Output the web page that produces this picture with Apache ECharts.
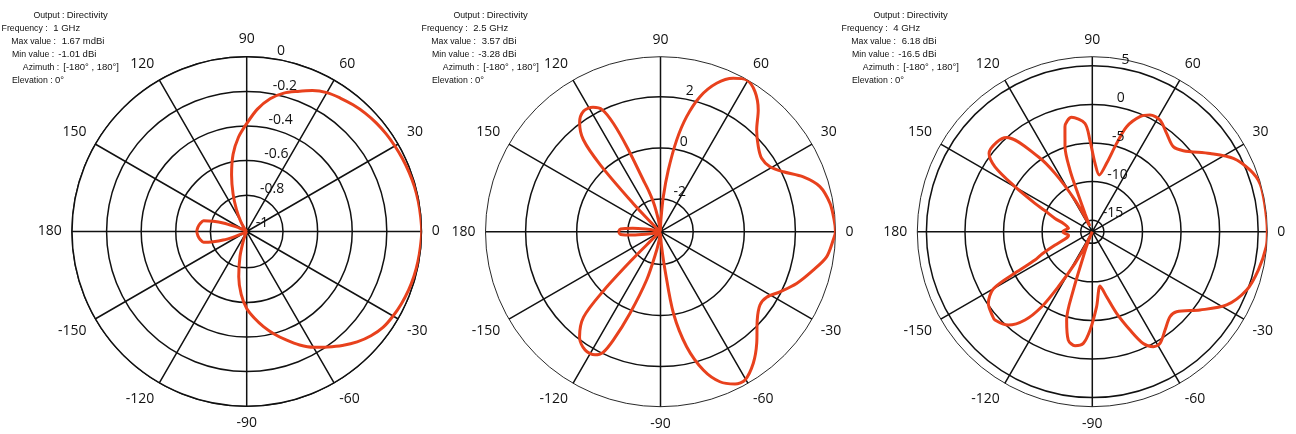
<!DOCTYPE html>
<html>
<head>
<meta charset="utf-8">
<script src="https://cdn.jsdelivr.net/npm/echarts@6/dist/echarts.min.js"></script>
<style>
  html, body { margin: 0; padding: 0; background: #ffffff; }
  #chart { width: 1296px; height: 434px; }
</style>
</head>
<body>
<div id="chart"></div>
<script>
// Azimuth cuts of antenna directivity (dBi) at three frequencies, elevation 0°.

// 1 GHz
const azimuth1 = [-180,-175,-170,-166,-163,-160,-157,-154,-150,
  -145,-140,-135,-130,-125,-120,-115,-110,-105,-100,-95,-90,-85,-80,-75,-70,-65,-60,-55,-50,-45,-40,-35,-30,-25,-20,-15,-10,-5,
  0,
  5,10,15,20,25,30,35,40,45,50,55,60,65,70,75,80,85,90,95,100,105,110,115,120,125,130,135,140,145,150,
  154,157,160,163,166,170,175,180];
const directivity1 = [-0.721,-0.727,-0.738,-0.753,-0.808,-0.865,-0.935,-0.981,-1.004,
  -1.01,-1.01,-1.01,-1.01,-1.01,-1.005,-0.995,-0.955,-0.860,-0.745,-0.645,-0.565,-0.508,-0.452,-0.397,-0.343,-0.286,-0.237,-0.195,-0.150,-0.107,-0.072,-0.046,-0.033,-0.023,-0.015,-0.009,-0.005,-0.002,
  0.00167,
  -0.001,-0.003,-0.006,-0.011,-0.016,-0.021,-0.026,-0.033,-0.042,-0.054,-0.068,-0.083,-0.111,-0.148,-0.182,-0.231,-0.300,-0.386,-0.463,-0.557,-0.672,-0.780,-0.870,-0.935,-0.975,-1.000,-1.01,-1.01,-1.01,-1.004,
  -0.981,-0.935,-0.865,-0.808,-0.753,-0.738,-0.727,-0.721];

// 2.5 GHz
const azimuth2 = [-180,-176,-173,-170,-165,-160,-150,-140,-137,-135.5,
  -134,-132,-127.5,-122.5,-118,-115.5,-113.5,-110.5,-106,-102,
  -99,-95,-90,-86,-83.3,-81,-77.2,-72.8,-68.4,-63.9,
  -60.3,-54.8,-49.2,-42.4,-36.4,-31.7,-26.7,-20.8,-14.1,-8.6,
  -2.7,0,4,9.5,15.8,21,26,30.7,36,41,
  46.6,51.2,56,60.4,64.6,69.3,73.7,77.2,80,82.8,
  85.4,88,91,95,100,103,106,108.5,111.5,113.5,
  115.5,118.5,122.5,126.5,130,132,134,136,140,150,
  160,165,170,173,176,180];
const directivity2 = [-1.636,-1.714,-2.184,-2.693,-3.084,-3.24,-3.28,-3.123,-2.810,-1.714,
  -0.071,1.221,1.926,2.211,2.180,1.965,1.338,0.125,-1.323,-2.497,
  -2.967,-3.20,-3.163,-2.732,-1.769,-0.047,1.338,2.387,3.037,3.354,
  3.401,3.021,2.485,1.847,1.557,1.604,1.953,2.419,2.884,3.295,
  3.49,3.57,3.53,3.448,3.205,2.708,2.070,1.702,1.612,1.793,
  2.199,2.826,3.334,3.55,3.366,2.931,2.227,1.338,0.360,-0.853,
  -1.910,-2.810,-3.163,-3.24,-2.810,-2.184,-1.636,-1.127,0.243,1.338,
  2.004,2.258,2.317,2.043,1.417,0.243,-1.714,-2.810,-3.123,-3.28,
  -3.24,-3.084,-2.693,-2.184,-1.714,-1.636];

// 4 GHz
const azimuth3 = [-180,-176,-172,-168,-164,-160,-156,-153.7,-152,-150,
  -145.4,-140,-137.8,-132,-127.3,-124,-121.7,-118.6,-116,-114,
  -112,-109.8,-108,-106.2,-102.5,-98.6,-94.6,-91.3,-86.7,-81.9,
  -77.6,-73.4,-69,-65.5,-62,-58.8,-53.5,-47.6,-43.5,-36,
  -28.6,-20.7,-13,-5,0,9,16,21.4,27.5,33.6,
  41.7,46.4,52.9,58.8,63.7,67.5,71.9,74.6,78.2,83,
  87.7,91.5,93.9,100.3,104.6,107.8,109.9,110.6,111.8,114,
  116,118.6,122.6,125.8,132.3,137,142.8,146.3,149.8,153.7,
  156,160.4,164,167.5,172,176,180];
const directivity3 = [-12.61,-13.0,-13.39,-13.26,-12.61,-11.32,-9.37,-8.21,-5.49,-1.71,
  -0.13,0.41,0.53,-0.22,-2.11,-4.77,-8.12,-11.83,-14.56,-16.5,
  -14.95,-13.05,-8.56,-4.58,-2.11,-1.56,-1.98,-3.75,-6.77,-9.38,
  -7.87,-5.46,-2.85,-0.58,0.37,0.43,-0.65,-1.57,-1.44,0.76,
  3.33,4.88,5.58,6.12,6.18,6.13,6.11,5.44,4.11,1.83,
  -0.71,-1.28,-0.53,0.43,0.37,-0.36,-2.18,-4.63,-7.45,-9.1,
  -7.64,-4.62,-2.43,-1.44,-2.44,-4.93,-8.0,-10.73,-13.95,-15.7,
  -14.7,-11.83,-7.53,-4.53,0.01,0.47,0.30,-1.34,-4.90,-8.21,
  -9.76,-11.37,-12.61,-13.09,-13.39,-13.0,-12.61];

// Radial grid rings (dBi) and their spacing for each plot
const rings1 = [-1, -0.8, -0.6, -0.4, -0.2, 0];
const rings2 = [-2, 0, 2];
const rings3 = [-15, -10, -5, 0, 5];
const ringStep = [0.2, 2, 5];

// Azimuth ticks (degrees)
const azimuthStep = 30;

// Summary text beside each plot
const infoKeys = ['Output :', 'Frequency :', 'Max value :', 'Min value :', 'Azimuth :', 'Elevation :'];
const info1 = ['Directivity', '1 GHz', '1.67 mdBi', '-1.01 dBi', '[-180° , 180°]', '0°'];
const info2 = ['Directivity', '2.5 GHz', '3.57 dBi', '-3.28 dBi', '[-180° , 180°]', '0°'];
const info3 = ['Directivity', '4 GHz', '6.18 dBi', '-16.5 dBi', '[-180° , 180°]', '0°'];

const azimuths = [azimuth1, azimuth2, azimuth3];
const values = [directivity1, directivity2, directivity3];
const rings = [rings1, rings2, rings3];
const infos = [info1, info2, info3];

const GRID = '#111111';
const CURVE = '#e8411d';
const FONT = "'Open Sans', 'Noto Sans', sans-serif";
const SMALL_FONT = "9.5px 'Liberation Sans', Arial, sans-serif";
const centers = [[246.7, 231.5], [660.5, 231.7], [1092.3, 231.7]];
const R = 175;
const infoX = [0, 420, 840];
const keyRight = [64.5, 47.7, 56, 54.3, 59.3, 52.7];
const valueLeft = [66.7, 53.3, 61.7, 58.3, 63.3, 55];

const chart = echarts.init(document.getElementById('chart'), null, { renderer: 'canvas' });

const polar = [];
const angleAxis = [];
const radiusAxis = [];
const series = [];
const graphic = [];

centers.forEach(c => polar.push({ center: c, radius: R }));
// overlay coordinate systems carry only the ring value labels
centers.forEach(c => polar.push({ center: c, radius: R }));

centers.forEach((c, k) => {
  const vmin = Math.min(...values[k]);
  const vmax = Math.max(...values[k]);
  angleAxis.push({
    polarIndex: k,
    type: 'value',
    min: -180,
    max: 180,
    interval: azimuthStep,
    startAngle: 180,
    clockwise: false,
    axisLine: { show: true, lineStyle: { color: GRID, width: 0.9 } },
    axisTick: { show: false },
    axisLabel: {
      margin: 10,
      fontSize: 14,
      fontFamily: FONT,
      color: '#111',
      formatter: v => (v === -180 ? '180' : String(v))
    },
    splitLine: { show: true, lineStyle: { color: GRID, width: 1.5 } }
  });
  radiusAxis.push({
    polarIndex: k,
    type: 'value',
    min: vmin,
    max: vmax,
    splitNumber: 5,
    minInterval: ringStep[k],
    maxInterval: ringStep[k],
    axisLine: { show: false },
    axisTick: { show: false },
    axisLabel: { show: false },
    splitLine: { show: true, lineStyle: { color: GRID, width: 1.5 } }
  });
  series.push({
    type: 'line',
    coordinateSystem: 'polar',
    polarIndex: k,
    data: azimuths[k].map((a, i) => [values[k][i], a]),
    symbol: 'none',
    smooth: 0.3,
    clip: false,
    lineStyle: { color: CURVE, width: 3 },
    z: 5
  });

  infoKeys.forEach((key, i) => {
    const y = 15.7 + 12.86 * i;
    graphic.push({
      type: 'text', x: infoX[k] + keyRight[i], y: y, scaleX: 0.92,
      style: { text: key, fill: '#111', font: SMALL_FONT, align: 'right', verticalAlign: 'middle' }
    });
    graphic.push({
      type: 'text', x: infoX[k] + valueLeft[i], y: y,
      style: { text: infos[k][i], fill: '#111', font: SMALL_FONT, align: 'left', verticalAlign: 'middle' }
    });
  });
});

centers.forEach((c, k) => {
  const vmin = Math.min(...values[k]);
  const vmax = Math.max(...values[k]);
  angleAxis.push({
    polarIndex: 3 + k,
    type: 'value',
    min: 0,
    max: 360,
    startAngle: 83,
    show: false
  });
  radiusAxis.push({
    polarIndex: 3 + k,
    type: 'value',
    min: vmin,
    max: vmax,
    splitNumber: 5,
    minInterval: ringStep[k],
    maxInterval: ringStep[k],
    axisLine: { show: false },
    axisTick: { show: false },
    splitLine: { show: false },
    axisLabel: {
      show: true,
      margin: -9,
      align: 'left',
      fontSize: 14,
      fontFamily: FONT,
      color: '#111',
      verticalAlign: 'bottom',
      padding: [0, 0, 1, 0],
      formatter: v => {
        const hit = rings[k].find(r => Math.abs(r - v) < 1e-6);
        return hit === undefined ? '' : String(hit);
      }
    },
    z: 10
  });
});

const option = {
  backgroundColor: '#ffffff',
  animation: false,
  polar,
  angleAxis,
  radiusAxis,
  series,
  graphic
};

chart.setOption(option);

// Only the labelled rings keep a heavy line; the outer boundary stays thin.
try {
  const patch = rings.map((rv, k) => {
    const ticks = chart.getModel().getComponent('radiusAxis', k).axis.scale.getTicks().map(t => t.value);
    return {
      splitLine: {
        lineStyle: {
          color: ticks.map(v => (rv.some(r => Math.abs(r - v) < 1e-6) ? GRID : 'rgba(0,0,0,0)'))
        }
      }
    };
  });
  chart.setOption({ radiusAxis: patch });
} catch (e) {
  // keep default ring styling
}
</script>
</body>
</html>
